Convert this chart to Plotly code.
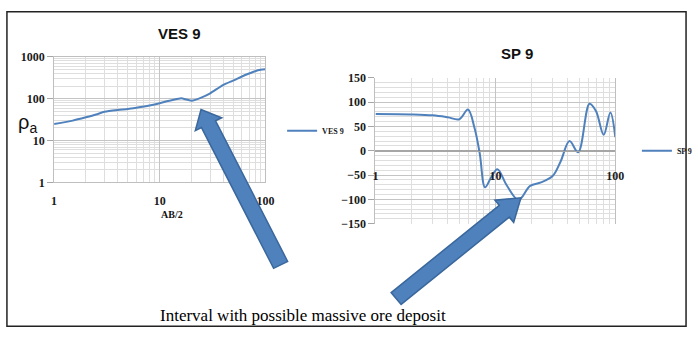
import math
import plotly.graph_objects as go

W, H = 698, 340

# VES 9: apparent resistivity against half electrode spacing AB/2
ves_ab2 = [1, 1.5, 2, 2.5, 3, 4, 5, 6, 8, 10, 12, 15, 16, 20, 25, 30, 40, 50, 60, 70, 80, 90, 100]
ves_rho = [25, 30, 36, 42, 49, 54, 57, 61, 69, 78, 88, 100, 102, 90, 108, 135, 215, 275, 340, 400, 455, 490, 505]

# SP 9: self-potential readings along the same spacing
sp_x = [1, 2, 3, 4, 5, 5.9, 6.7, 7.4, 8.2, 9.2, 10.4, 12.5, 15.6, 19.5, 24, 30, 35, 41.5, 49, 61, 69, 80, 91, 100]
sp_mv = [76, 75, 73, 69, 65, 85, 47, -5, -75, -55, -38, -72, -101, -72, -65, -52, -22, 20, -3, 97, 82, 33, 79, 28]

decade_ticks_x = [1, 10, 100]
decade_ticks_y = [1, 10, 100, 1000]

LINE_BLUE = "#4F81BD"
GRID_MAJOR = "#c4c4c4"
GRID_MINOR = "#dedede"
TICK_FONT = dict(family="Liberation Serif", size=12, color="#1a1a1a", weight="bold")
LEGEND_FONT = dict(family="Liberation Serif", size=8, color="#1a1a1a", weight="bold")


def minor_log(lo_exp, hi_exp):
    return [m * 10 ** e for e in range(lo_exp, hi_exp) for m in range(2, 10)]


def fx(px):
    return px / W


def fy(py):
    return 1 - py / H


# plot areas in pixels (left, top, right, bottom)
ves_box = (52, 52, 267, 183)
sp_box = (379, 74, 623, 226)
sp_range = [-150, 150]
zero_pos = fy(sp_box[3]) + (0 - sp_range[0]) / (sp_range[1] - sp_range[0]) * (fy(sp_box[1]) - fy(sp_box[3]))

fig = go.Figure()

fig.add_trace(go.Scatter(
    x=ves_ab2, y=ves_rho, name="VES 9", mode="lines",
    line=dict(color=LINE_BLUE, width=2, shape="spline", smoothing=0.6),
    xaxis="x", yaxis="y", legend="legend", showlegend=True,
))
fig.add_trace(go.Scatter(
    x=sp_x, y=sp_mv, name="SP 9", mode="lines",
    line=dict(color=LINE_BLUE, width=2, shape="spline", smoothing=1.0),
    xaxis="x2", yaxis="y2", legend="legend2", showlegend=True,
))

fig.update_layout(
    width=W, height=H,
    margin=dict(l=0, r=0, t=0, b=0),
    paper_bgcolor="white", plot_bgcolor="white",
    showlegend=True,
    xaxis=dict(
        type="log", range=[0, 2], domain=[fx(ves_box[0]), fx(ves_box[2])],
        anchor="y", tickvals=decade_ticks_x, ticktext=[str(v) for v in decade_ticks_x],
        ticks="", ticklabelstandoff=7, tickfont=TICK_FONT,
        showgrid=True, gridcolor=GRID_MAJOR, gridwidth=1,
        minor=dict(tickvals=minor_log(0, 2), showgrid=True, gridcolor=GRID_MINOR, ticks=""),
        showline=True, linecolor="#bfbfbf", mirror=True, zeroline=False,
    ),
    yaxis=dict(
        type="log", range=[0, 3], domain=[fy(ves_box[3]), fy(ves_box[1])],
        anchor="x", tickvals=decade_ticks_y, ticktext=[str(v) for v in decade_ticks_y],
        ticks="outside", ticklen=6, tickcolor="#a6a6a6", tickfont=TICK_FONT,
        showgrid=True, gridcolor=GRID_MAJOR,
        minor=dict(tickvals=minor_log(0, 3), showgrid=True, gridcolor=GRID_MINOR, ticks=""),
        showline=True, linecolor="#bfbfbf", mirror=True, zeroline=False,
    ),
    xaxis2=dict(
        type="log", range=[0, 2], domain=[fx(sp_box[0]), fx(sp_box[2])],
        anchor="free", position=zero_pos,
        tickvals=decade_ticks_x, ticktext=[str(v) for v in decade_ticks_x],
        ticks="", ticklabelstandoff=14, tickfont=TICK_FONT,
        showgrid=True, gridcolor=GRID_MAJOR,
        minor=dict(tickvals=minor_log(0, 2), showgrid=True, gridcolor=GRID_MINOR, ticks=""),
        showline=True, linecolor="#a6a6a6", zeroline=False,
    ),
    yaxis2=dict(
        range=sp_range, domain=[fy(sp_box[3]), fy(sp_box[1])], anchor="x2",
        dtick=50, ticks="outside", ticklen=6, tickcolor="#a6a6a6", tickfont=TICK_FONT,
        showgrid=True, gridcolor=GRID_MAJOR,
        minor=dict(dtick=10, showgrid=True, gridcolor=GRID_MINOR, ticks=""),
        showline=True, linecolor="#bfbfbf", mirror=True,
        zeroline=True, zerolinecolor="#a6a6a6", zerolinewidth=1,
    ),
    legend=dict(
        x=fx(284), y=fy(129), xanchor="left", yanchor="middle",
        bgcolor="rgba(0,0,0,0)", borderwidth=0, font=LEGEND_FONT, itemwidth=30,
        visible=True,
    ),
    legend2=dict(
        x=fx(645), y=fy(150), xanchor="left", yanchor="middle",
        bgcolor="rgba(0,0,0,0)", borderwidth=0, font=LEGEND_FONT, itemwidth=30,
        visible=True,
    ),
)


def arrow_path(tail, tip, shaft, head_w, head_len):
    tx, ty = tail
    hx, hy = tip
    dx, dy = hx - tx, hy - ty
    length = math.hypot(dx, dy)
    ux, uy = dx / length, dy / length
    nx, ny = -uy, ux
    bx, by = hx - ux * head_len, hy - uy * head_len
    pts = [
        (tx + nx * shaft / 2, ty + ny * shaft / 2),
        (bx + nx * shaft / 2, by + ny * shaft / 2),
        (bx + nx * head_w / 2, by + ny * head_w / 2),
        (hx, hy),
        (bx - nx * head_w / 2, by - ny * head_w / 2),
        (bx - nx * shaft / 2, by - ny * shaft / 2),
        (tx - nx * shaft / 2, ty - ny * shaft / 2),
    ]
    return "M " + " L ".join(f"{fx(x):.5f},{fy(y):.5f}" for x, y in pts) + " Z"


shapes = [
    # outer frame
    dict(type="rect", xref="paper", yref="paper", x0=fx(4), x1=fx(695), y0=fy(333), y1=fy(5),
         line=dict(color="#222222", width=1.5), fillcolor="rgba(0,0,0,0)", layer="above"),
    # block arrows pointing at the anomaly
    dict(type="path", xref="paper", yref="paper",
         path=arrow_path((282.5, 269), (201.5, 107), shaft=16, head_w=30, head_len=17),
         fillcolor="#4F81BD", line=dict(color="#3A679C", width=1.5), layer="above"),
    dict(type="path", xref="paper", yref="paper",
         path=arrow_path((400, 304), (527, 199), shaft=16, head_w=30, head_len=22),
         fillcolor="#4F81BD", line=dict(color="#3A679C", width=1.5), layer="above"),
]
fig.update_layout(shapes=shapes)

annotations = [
    dict(text="<b>VES 9</b>", x=fx(180), y=fy(28),
         font=dict(family="Liberation Sans", size=15, color="#111111")),
    dict(text="<b>SP 9</b>", x=fx(523), y=fy(49),
         font=dict(family="Liberation Sans", size=15, color="#111111")),
    dict(text="ρ<sub>a</sub>", x=fx(25), y=fy(122),
         font=dict(family="Liberation Sans", size=20, color="#111111")),
    dict(text="<b>AB/2</b>", x=fx(172), y=fy(216),
         font=dict(family="Liberation Serif", size=10, color="#111111")),
    dict(text="Interval with possible massive ore deposit", x=fx(305), y=fy(322),
         font=dict(family="Liberation Serif", size=17, color="#000000")),
]
for a in annotations:
    a.update(xref="paper", yref="paper", showarrow=False, xanchor="center", yanchor="middle")
fig.update_layout(annotations=annotations)

fig.write_html("out.html")
